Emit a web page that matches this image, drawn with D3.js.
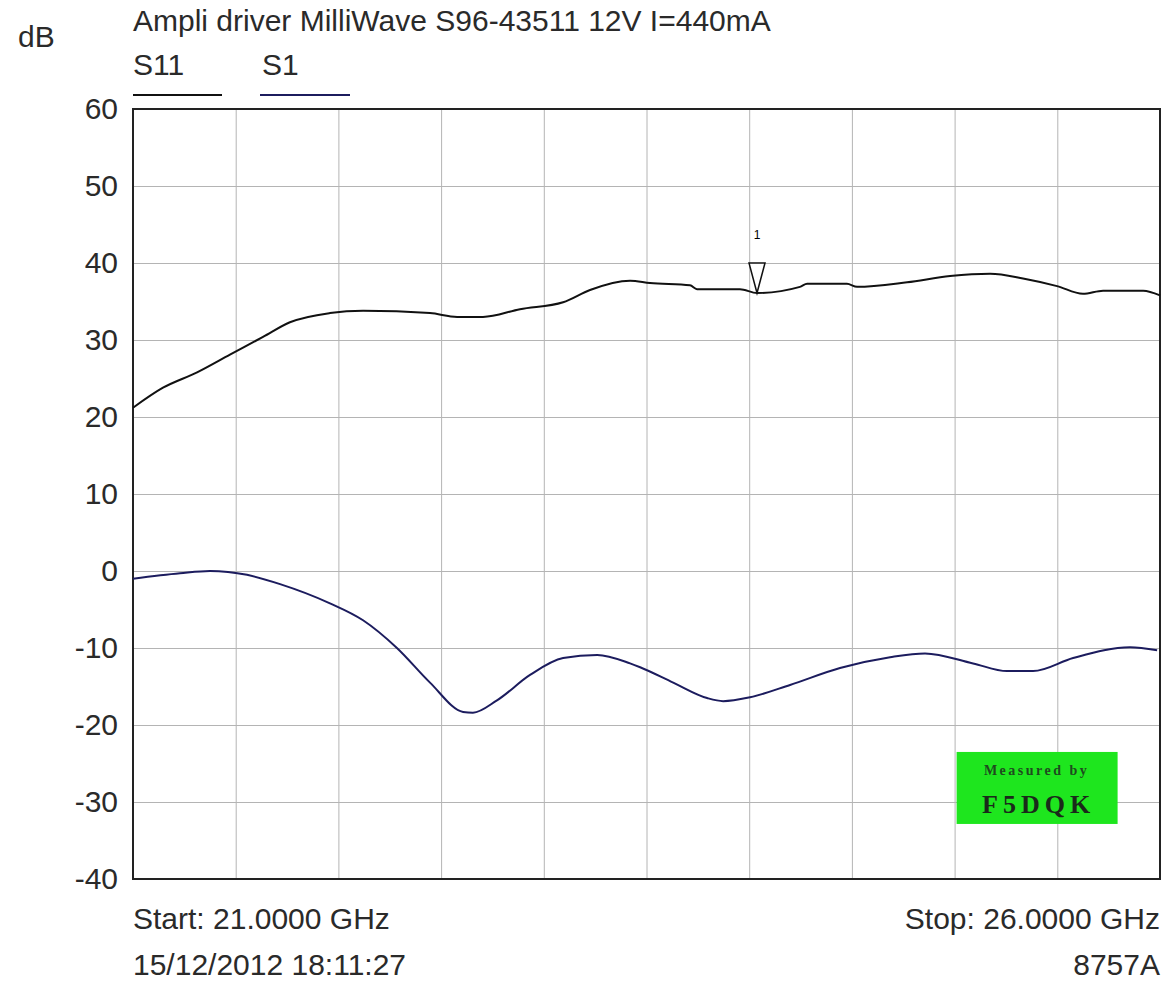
<!DOCTYPE html>
<html>
<head>
<meta charset="utf-8">
<script src="https://cdn.jsdelivr.net/npm/d3@7"></script>
<style>
  html, body { margin: 0; padding: 0; background: #fff; }
  svg { display: block; font-family: "Liberation Sans", Arial, sans-serif; }
</style>
</head>
<body>
<div id="chart"></div>
<script>
// values (GHz / dB)
const gainFreq = [21.000, 21.146, 21.312, 21.472, 21.633, 21.764, 21.959, 22.120, 22.446, 22.578,
  22.704, 22.884, 23.094, 23.225, 23.420, 23.517, 23.712, 23.746, 23.955, 24.038, 24.247, 24.282,
  24.476, 24.525, 24.769, 24.978, 25.173, 25.333, 25.499, 25.625, 25.723, 25.918, 26.000];
const gainDb = [21.2, 23.8, 25.8, 28.1, 30.4, 32.3, 33.5, 33.8, 33.5, 33.0,
  33.0, 34.0, 34.9, 36.5, 37.7, 37.4, 37.1, 36.6, 36.6, 36.1, 36.9, 37.3,
  37.3, 36.9, 37.5, 38.3, 38.6, 38.0, 37.0, 36.0, 36.4, 36.4, 35.8];

const returnFreq = [21.000, 21.229, 21.375, 21.555, 21.716, 21.959, 22.120, 22.285, 22.446, 22.607,
  22.655, 22.772, 22.933, 23.094, 23.260, 23.420, 23.469, 23.630, 23.795, 23.873, 24.004, 24.199,
  24.442, 24.686, 24.856, 25.090, 25.255, 25.382, 25.577, 25.854, 25.986];
const returnDb = [-1.0, -0.3, 0.0, -0.5, -1.7, -4.2, -6.4, -10.0, -14.5, -18.3,
  -18.4, -16.8, -13.5, -11.3, -10.9, -12.0, -12.5, -14.5, -16.5, -16.9, -16.4, -14.8,
  -12.6, -11.2, -10.7, -12.0, -13.0, -13.0, -11.3, -9.9, -10.3];

const yTicks = [60, 50, 40, 30, 20, 10, 0, -10, -20, -30, -40];
const xTicks = [21, 21.5, 22, 22.5, 23, 23.5, 24, 24.5, 25, 25.5, 26];

const legendNames = ["S11", "S1"];
const markerFreq = 24.038;
const markerDb = 36.1;

const width = 1165, height = 984;
const margin = { top: 109, right: 5, bottom: 105, left: 133 };
const w = width - margin.left - margin.right;
const h = height - margin.top - margin.bottom;
const fs = 30;

const x = d3.scaleLinear().domain([21, 26]).range([0, w]);
const y = d3.scaleLinear().domain([-40, 60]).range([h, 0]);

const svg = d3.select("#chart").append("svg")
  .attr("width", width).attr("height", height);

const g = svg.append("g")
  .attr("transform", `translate(${margin.left},${margin.top})`);

// grid + y labels (plain hyphen for negatives, like the analyser)
g.append("g")
  .call(d3.axisLeft(y).tickValues(yTicks).tickSize(-w).tickPadding(15).tickFormat(d => String(d)))
  .call(a => a.select(".domain").remove())
  .call(a => a.selectAll("line").attr("stroke", "#b4b4b4"))
  .call(a => a.selectAll("text").attr("font-size", fs).attr("fill", "#2a2a2a")
    .attr("font-family", "Liberation Sans, Arial, sans-serif"));

g.append("g")
  .attr("transform", `translate(0,${h})`)
  .call(d3.axisBottom(x).tickValues(xTicks).tickSize(-h).tickFormat(""))
  .call(a => a.select(".domain").remove())
  .call(a => a.selectAll("line").attr("stroke", "#b4b4b4"));

// frame
g.append("rect")
  .attr("width", w).attr("height", h)
  .attr("fill", "none").attr("stroke", "#222").attr("stroke-width", 2);

const line = d3.line()
  .x(d => x(d[0])).y(d => y(d[1]))
  .curve(d3.curveMonotoneX);

g.append("path")
  .datum(d3.zip(gainFreq, gainDb))
  .attr("fill", "none").attr("stroke", "#111").attr("stroke-width", 2)
  .attr("d", line);

g.append("path")
  .datum(d3.zip(returnFreq, returnDb))
  .attr("fill", "none").attr("stroke", "#1c1c5e").attr("stroke-width", 2)
  .attr("d", line);

// marker 1
const mx = x(markerFreq), my = y(markerDb);
g.append("path")
  .attr("d", `M${mx - 8},${y(40)} L${mx + 8},${y(40)} L${mx},${my} Z`)
  .attr("fill", "#fff").attr("stroke", "#111").attr("stroke-width", 1.5);
g.append("text")
  .attr("x", mx).attr("y", y(40) - 24)
  .attr("text-anchor", "middle").attr("font-size", 12)
  .text("1");

// measured-by badge
const badge = g.append("g")
  .attr("transform", `translate(${x(25.0) + 2},${y(-23.5)})`);
badge.append("rect")
  .attr("width", 161).attr("height", 72).attr("fill", "#1ee61e");
badge.append("text")
  .attr("x", 80).attr("y", 23).attr("text-anchor", "middle")
  .attr("font-family", "Liberation Serif, serif").attr("font-size", 14).attr("font-weight", "bold")
  .attr("letter-spacing", 2.5).attr("fill", "#1f4a1f")
  .text("Measured by");
badge.append("text")
  .attr("x", 82).attr("y", 61).attr("text-anchor", "middle")
  .attr("font-family", "Liberation Serif, serif").attr("font-size", 26).attr("font-weight", "bold")
  .attr("letter-spacing", 5).attr("fill", "#1a2a1a")
  .text("F5DQK");

// titles and labels
const txt = (tx, ty, s, anchor) => svg.append("text")
  .attr("x", tx).attr("y", ty).attr("font-size", fs).attr("fill", "#2a2a2a")
  .attr("text-anchor", anchor || "start").text(s);

txt(133, 31, "Ampli driver MilliWave S96-43511 12V I=440mA");
txt(18, 47, "dB");
txt(133, 75, legendNames[0]);
txt(262, 75, legendNames[1]);
svg.append("line").attr("x1", 133).attr("x2", 222).attr("y1", 95).attr("y2", 95)
  .attr("stroke", "#111").attr("stroke-width", 2);
svg.append("line").attr("x1", 260).attr("x2", 350).attr("y1", 95).attr("y2", 95)
  .attr("stroke", "#1c1c5e").attr("stroke-width", 2);

txt(133, 929, "Start: 21.0000 GHz");
txt(133, 975, "15/12/2012 18:11:27");
txt(1160, 929, "Stop: 26.0000 GHz", "end");
txt(1160, 975, "8757A", "end");
</script>
</body>
</html>
